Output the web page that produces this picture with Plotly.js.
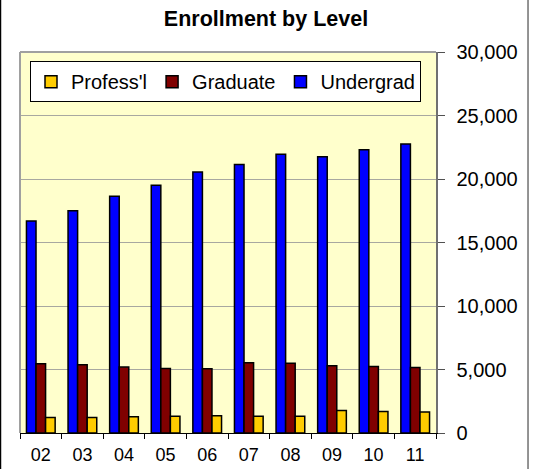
<!DOCTYPE html>
<html>
<head>
<meta charset="utf-8">
<script src="https://cdn.plot.ly/plotly-3.0.1.min.js"></script>
<style>
  html, body { margin: 0; padding: 0; background: #ffffff; }
  #chart { width: 536px; height: 469px; }
</style>
</head>
<body>
<div id="chart"></div>
<script>
var years = ["02", "03", "04", "05", "06", "07", "08", "09", "10", "11"];
var undergrad = [16700, 17500, 18650, 19500, 20550, 21150, 21950, 21750, 22300, 22750];
var graduate = [5450, 5370, 5190, 5080, 5050, 5530, 5500, 5290, 5240, 5160];
var professl = [1230, 1230, 1280, 1310, 1360, 1310, 1310, 1780, 1690, 1660];

var FONT = "Arial, 'Liberation Sans', sans-serif";
var outline = { color: "#000000", width: 1.5 };

var data = [
  { type: "bar", name: "Undergrad", x: years, y: undergrad,
    marker: { color: "#0000FF", line: outline }, hoverinfo: "y" },
  { type: "bar", name: "Graduate", x: years, y: graduate,
    marker: { color: "#800000", line: outline }, hoverinfo: "y" },
  { type: "bar", name: "Profess'l", x: years, y: professl,
    marker: { color: "#FFCC00", line: outline }, hoverinfo: "y" }
];

var layout = {
  width: 536, height: 469,
  margin: { l: 20, r: 100, t: 52, b: 36, pad: 0 },
  paper_bgcolor: "#ffffff",
  plot_bgcolor: "#FFFFCC",
  font: { family: FONT, size: 18, color: "#000000" },
  title: {
    text: "<b>Enrollment by Level</b>",
    font: { family: FONT, size: 21.5, color: "#000000" },
    x: 266 / 536, xref: "container", xanchor: "center",
    y: 1 - 18 / 469, yref: "container", yanchor: "middle"
  },
  barmode: "group",
  bargap: 0.31,
  bargroupgap: 0,
  showlegend: true,
  legend: {
    orientation: "h",
    traceorder: "reversed",
    x: 10 / 416, xanchor: "left",
    y: 0.976, yanchor: "top",
    bgcolor: "#ffffff",
    bordercolor: "#000000",
    borderwidth: 1,
    font: { family: FONT, size: 20, color: "#000000" }
  },
  xaxis: {
    type: "category",
    showgrid: false,
    showline: true, linecolor: "#000000", linewidth: 1,
    ticks: "outside", tickson: "boundaries", ticklen: 5, tickcolor: "#000000",
    ticklabelstandoff: 5,
    tickfont: { family: FONT, size: 18, color: "#000000" },
    fixedrange: true
  },
  yaxis: {
    side: "right",
    range: [0, 30000],
    dtick: 5000, tick0: 0,
    tickformat: ",d",
    showgrid: true, gridcolor: "#A8A8A0", gridwidth: 1,
    zeroline: false,
    showline: true, linecolor: "#707070", linewidth: 1.5,
    ticks: "outside", ticklen: 7, tickcolor: "#505050",
    ticklabelstandoff: 8,
    tickfont: { family: FONT, size: 20, color: "#000000" },
    fixedrange: true
  },
  shapes: [
    { type: "line", xref: "paper", yref: "paper", x0: 0, x1: 1, y0: 1, y1: 1,
      line: { color: "#A0A0A0", width: 2 } },
    { type: "line", xref: "paper", yref: "paper", x0: 0, x1: 0, y0: 0, y1: 1,
      line: { color: "#A0A0A0", width: 2 } },
    { type: "line", xref: "paper", yref: "paper", x0: -0.0475, x1: -0.0475, y0: -0.2, y1: 1.2,
      line: { color: "#000000", width: 2 } },
    { type: "line", xref: "paper", yref: "paper", x0: 1.2212, x1: 1.2212, y0: -0.2, y1: 1.2,
      line: { color: "#707070", width: 1.5 } }
  ]
};

Plotly.newPlot("chart", data, layout, { displayModeBar: false, staticPlot: true });
</script>
</body>
</html>
